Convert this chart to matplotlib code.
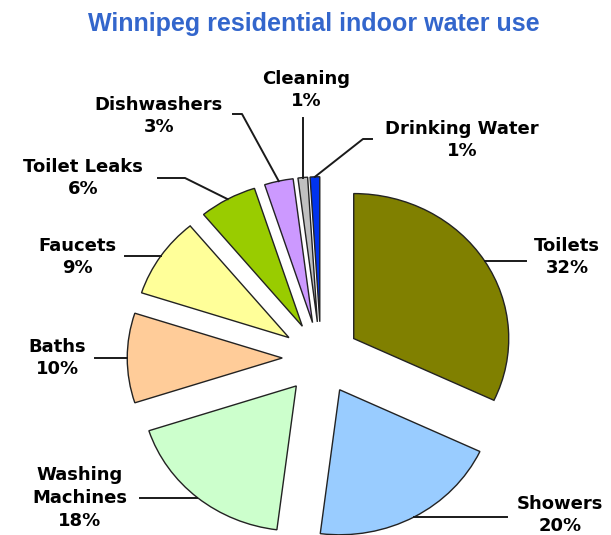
import numpy as np
import matplotlib.pyplot as plt

# Winnipeg residential indoor water use (%)
labels = ['Toilets', 'Showers', 'Washing\nMachines', 'Baths', 'Faucets',
          'Toilet Leaks', 'Dishwashers', 'Cleaning', 'Drinking Water']
shares = [32, 20, 18, 10, 9, 6, 3, 1, 1]
colors = ['#808000', '#99ccff', '#ccffcc', '#ffcc99', '#ffff99',
          '#99cc00', '#cc99ff', '#c0c0c0', '#0033ee']

W, H = 611, 535
cx, cy = 321, 358      # pie centre, pixels from top-left
rx, ry = 155, 145      # the slide was stretched a bit sideways


def px(x, y):
    # pixel (from top-left) -> data coords
    return (x - cx) / rx, (cy - y) / ry


fig = plt.figure(figsize=(W / 100, H / 100), dpi=100)
ax = fig.add_axes([0, 0, 1, 1])
wedges, _ = ax.pie(shares, colors=colors, startangle=90, counterclock=False,
                   explode=[0.25] * len(shares),
                   wedgeprops=dict(edgecolor='#222222', linewidth=1.0))
ax.set_aspect('auto')
ax.set_xlim(-cx / rx, (W - cx) / rx)
ax.set_ylim((cy - H) / ry, cy / ry)
ax.axis('off')

# label centre (px) and leader line: elbow point (or None) and end point x/y
layout = [
    ((567, 257), None, (526, None)),
    ((560, 515), None, (507, None)),
    ((80, 498), None, (140, None)),
    ((57, 358), None, (95, None)),
    ((77, 257), None, (125, None)),
    ((83, 178), (185, 178), (158, 178)),
    ((159, 116), (242, 114), (233, 114)),
    ((306, 90), None, (None, 118)),
    ((462, 140), (363, 139), (372, 139)),
]

for w, lab, val, (tpos, elbow, end) in zip(wedges, labels, shares, layout):
    mid = np.deg2rad((w.theta1 + w.theta2) / 2)
    ax_, ay_ = w.center[0] + w.r * np.cos(mid), w.center[1] + w.r * np.sin(mid)
    pts = [(ax_, ay_)]
    if elbow is not None:
        pts.append(px(*elbow))
    ex, ey = end
    if ex is None:
        pts.append((ax_, px(0, ey)[1]))
    elif ey is None:
        pts.append((px(ex, 0)[0], ay_))
    else:
        pts.append(px(ex, ey))
    pts = np.array(pts)
    ax.plot(pts[:, 0], pts[:, 1], color='#1a1a1a', lw=1.4, clip_on=False)
    tx, ty = px(*tpos)
    ax.text(tx, ty, f'{lab}\n{val}%', ha='center', va='center',
            multialignment='center', fontsize=13, fontweight='bold',
            family='DejaVu Sans', color='black', linespacing=1.35)

tx, ty = px(314, 24)
ax.text(tx, ty, 'Winnipeg residential indoor water use', ha='center',
        va='center', fontsize=18, fontweight='bold',
        family='Liberation Sans', color='#3366cc')

fig.savefig('out.png', dpi=100)
